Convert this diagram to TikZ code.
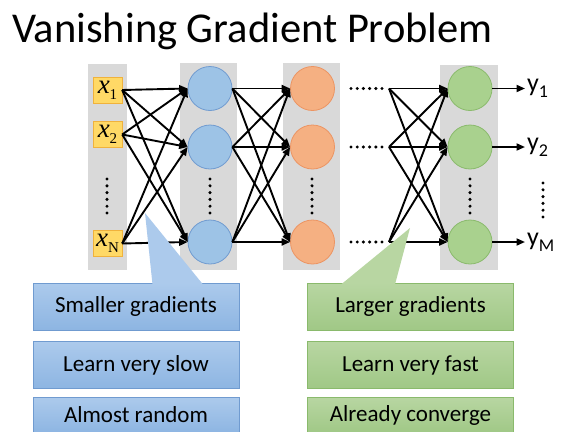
\documentclass[tikz,border=0pt]{standalone}
\usepackage{fontspec}
\setmainfont{Carlito}
\newfontfamily\xfont{Liberation Serif}
\usetikzlibrary{positioning,arrows.meta}

\definecolor{colgrey}{RGB}{217,217,217}
\definecolor{inyel}{RGB}{255,217,102}
\definecolor{inedge}{RGB}{240,178,60}
\definecolor{blufill}{RGB}{157,195,230}
\definecolor{bluedge}{RGB}{112,155,208}
\definecolor{orafill}{RGB}{245,176,130}
\definecolor{oraedge}{RGB}{236,148,98}
\definecolor{grnfill}{RGB}{169,209,142}
\definecolor{grnedge}{RGB}{138,186,108}
\definecolor{blutop}{RGB}{172,202,236}
\definecolor{blubot}{RGB}{141,181,226}
\definecolor{grntop}{RGB}{184,214,162}
\definecolor{grnbot}{RGB}{160,200,134}

\newcommand{\inlab}[1]{{\xfont\fontsize{27}{27}\selectfont\itshape x\raisebox{-0.5ex}{\upshape\fontsize{15}{15}\selectfont #1}}}
\newcommand{\outlab}[1]{{\fontsize{26}{26}\selectfont y\raisebox{-0.45ex}{\fontsize{18}{18}\selectfont #1}}}

\begin{document}
\begin{tikzpicture}[x=1pt, y=-1pt,
  >={Triangle[length=8.5pt, width=7pt]},
  conn/.style={line width=1.9pt},
  xin/.style={draw=inedge, fill=inyel, minimum width=29pt, minimum height=26pt, inner sep=0pt},
  unit/.style={circle, minimum size=44pt, inner sep=0pt, line width=0.8pt},
  bunit/.style={unit, draw=bluedge, fill=blufill},
  ounit/.style={unit, draw=oraedge, fill=orafill},
  gunit/.style={unit, draw=grnedge, fill=grnfill},
  tag/.style={minimum width=206pt, minimum height=47pt, inner sep=0pt, font=\fontsize{23}{23}\selectfont},
  lasttag/.style={minimum height=36pt},
  btag/.style={tag, draw=bluedge, top color=blutop, bottom color=blubot},
  gtag/.style={tag, draw=grnedge, top color=grntop, bottom color=grnbot}]
\useasboundingbox (0,0) rectangle (569,431);

% title
\node[anchor=base west, inner sep=0pt, font=\fontsize{42.5}{42.5}\selectfont] (title) at (12,42) {Vanishing Gradient Problem};

% grey layers
\fill[colgrey] (88,64) rectangle (127,270);
\fill[colgrey] (180,63) rectangle (237,270);
\fill[colgrey] (283,63) rectangle (340,270);
\fill[colgrey] (440,65) rectangle (498,270);

% inputs
\node[xin] (x1) at (107.5,90) {\inlab{1}};
\node[xin] (x2) at (107.5,134.5) {\inlab{2}};
\node[xin] (xN) at (107.5,243.5) {\inlab{N}};

% layers
\foreach \r/\y in {1/88.5,2/147,3/242} {
  \node[bunit] (b\r) at (210,\y) {};
  \node[ounit] (o\r) at (312.5,\y) {};
  \node[gunit] (g\r) at (470,\y) {};
  \coordinate (d\r) at (389,\y);
}

% outputs
\node[anchor=west, inner sep=2pt] (y1) at (525,88.5) {\outlab{1}};
\node[anchor=west, inner sep=2pt] (y2) at (525,147) {\outlab{2}};
\node[anchor=west, inner sep=2pt] (y3) at (525,242) {\outlab{M}};

% connections
\foreach \i in {1,2,N}
  \foreach \j in {1,2,3}
    \draw[->, conn] (x\i.east) -- (b\j.west);
\foreach \i in {1,2,3}
  \foreach \j in {1,2,3}
    \draw[->, conn] (b\i.east) -- (o\j.west);
\foreach \i in {1,2,3}
  \foreach \j in {1,2,3}
    \draw[->, conn] (d\i) -- (g\j.west);
\foreach \i in {1,2,3}
  \draw[->, conn] (g\i.east) -- (y\i.west);

% dots
\foreach \cx in {107,210,312,470}
  \foreach \k in {0,...,5}
    \fill (\cx,179+\k*6.8) circle[radius=1.7pt];
\foreach \k in {0,...,5}
  \fill (543,183+\k*6.8) circle[radius=1.7pt];
\foreach \y in {88.5,147,242}
  \foreach \k in {0,...,5}
    \fill (351+\k*6.2,\y) circle[radius=1.7pt];

% notes
\node[btag] (s1) at (136,306.5) {Smaller gradients};
\node[btag] (s2) at (136,365) {Learn very slow};
\node[btag, lasttag] (s3) at (136,415) {\raisebox{-4pt}{Almost random}};
\node[gtag] (l1) at (410.5,306.5) {Larger gradients};
\node[gtag] (l2) at (410.5,365) {Learn very fast};
\node[gtag, lasttag] (l3) at (410.5,415) {\raisebox{-4pt}{Already converge}};

% callout wedges
\fill[blutop] (145,213) -- (152.5,284.5) -- (203,284.5) -- cycle;
\fill[grntop] (410,228) -- (341,284.5) -- (395,284.5) -- cycle;
\end{tikzpicture}
\end{document}
